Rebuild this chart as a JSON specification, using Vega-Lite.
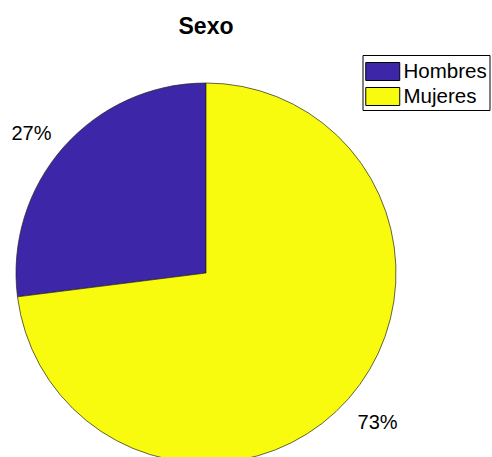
{
  "$schema": "https://vega.github.io/schema/vega-lite/v6.json",
  "autosize": "none",
  "padding": {"left": 0, "top": 50, "right": 80, "bottom": 0},
  "width": 412,
  "height": 446,
  "background": "white",
  "title": {"text": "Sexo", "fontSize": 23, "font": "Liberation Sans", "fontWeight": "bold", "color": "black", "anchor": "middle", "offset": 11},
  "data": {"values": [
    {"sexo": "Hombres", "fraccion": 0.27},
    {"sexo": "Mujeres", "fraccion": 0.73}
  ]},
  "encoding": {
    "theta": {"field": "fraccion", "type": "quantitative", "stack": true},
    "order": {"field": "sexo", "sort": "descending"}
  },
  "layer": [
    {
      "mark": {"type": "arc", "outerRadius": 190, "stroke": "#222222", "strokeWidth": 0.7},
      "encoding": {
        "color": {
          "field": "sexo", "type": "nominal",
          "scale": {"domain": ["Hombres", "Mujeres"], "range": ["#3e26a8", "#f9fb0e"]},
          "legend": {
            "title": null, "orient": "none", "legendX": 362.5, "legendY": 5,
            "symbolType": "M-1,-0.679H1.566V0.679H-1Z",
            "symbolSize": 702, "symbolStrokeColor": "black", "symbolStrokeWidth": 1, "symbolOpacity": 1,
            "labelFont": "Liberation Sans", "labelFontSize": 20.5, "labelColor": "black", "labelOffset": 10.5,
            "labelLimit": 300,
            "rowPadding": 0, "padding": 2.5, "strokeColor": "black", "fillColor": "white"
          }
        }
      }
    },
    {
      "mark": {"type": "text", "radius": 222, "dx": -8, "dy": 8, "font": "Liberation Sans", "fontSize": 20, "color": "black"},
      "encoding": {
        "text": {"field": "fraccion", "type": "quantitative", "format": ".0%"},
        "opacity": {"condition": {"test": "datum.sexo === 'Hombres'", "value": 1}, "value": 0}
      }
    },
    {
      "mark": {"type": "text", "radius": 222, "dx": 5, "dy": 3, "font": "Liberation Sans", "fontSize": 20, "color": "black"},
      "encoding": {
        "text": {"field": "fraccion", "type": "quantitative", "format": ".0%"},
        "opacity": {"condition": {"test": "datum.sexo === 'Mujeres'", "value": 1}, "value": 0}
      }
    }
  ],
  "config": {"view": {"stroke": null}}
}
